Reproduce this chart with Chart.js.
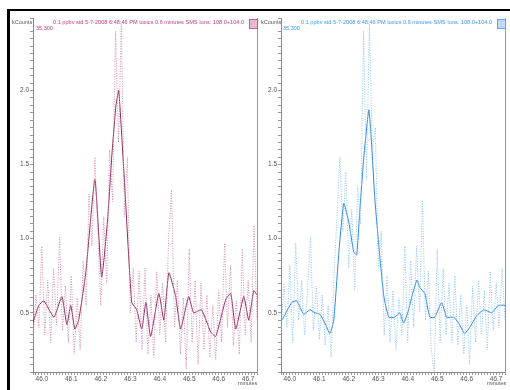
<!DOCTYPE html>
<html>
<head>
<meta charset="utf-8">
<script src="https://cdn.jsdelivr.net/npm/chart.js@4"></script>
<style>
body { margin:0; background:#fff; width:510px; height:390px; position:relative; overflow:hidden; font-family:"Liberation Sans", Arial, sans-serif; }
.frame { position:absolute; left:7px; top:9px; width:520px; height:400px; border-top:2px solid #000; border-left:3px solid #000; }
canvas { position:absolute; }
.lbl { position:absolute; font-size:5.5px; white-space:nowrap; line-height:1; }
.ttl { position:absolute; font-size:5.6px; white-space:nowrap; line-height:1; }
.box { position:absolute; width:7px; height:8px; }
</style>
</head>
<body>
<div class="frame"></div>
<canvas id="left" width="250" height="378" style="left:10px;top:12px"></canvas>
<canvas id="right" width="250" height="378" style="left:258px;top:12px"></canvas>

<div class="lbl" style="left:12px;top:20px;color:#555">kCounts</div>
<div class="ttl" style="left:53px;top:20px;color:#c0408a">0.1 ppbv std 5-7-2008 6:48:46 PM toxics 0.6 minutes SMS Ions: 108.0+104.0</div>
<div class="lbl" style="left:36px;top:26px;color:#c0408a">35.300</div>
<div class="box" style="left:249px;top:19px;background:#e8b8d0;border:1px solid #c06090"></div>
<div class="lbl" style="left:238px;top:381px;color:#555">minutes</div>

<div class="lbl" style="left:261px;top:20px;color:#555">kCounts</div>
<div class="ttl" style="left:301px;top:20px;color:#3a9af0">0.1 ppbv std 5-7-2008 6:48:46 PM toxics 0.6 minutes SMS Ions: 108.0+104.0</div>
<div class="lbl" style="left:283px;top:26px;color:#3a9af0">35.300</div>
<div class="box" style="left:497px;top:19px;background:#bcdcfa;border:1px solid #5aa8f0"></div>
<div class="lbl" style="left:487px;top:381px;color:#555">minutes</div>

<script>
// retention time of raw scans (minutes)
var rawTime = [45.97, 45.98, 45.99, 46.00, 46.01, 46.02, 46.03, 46.04, 46.05, 46.06,
  46.07, 46.08, 46.09, 46.10, 46.11, 46.12, 46.13, 46.14, 46.15, 46.16,
  46.17, 46.18, 46.19, 46.20, 46.21, 46.22, 46.23, 46.24, 46.25, 46.26,
  46.27, 46.28, 46.29, 46.30, 46.31, 46.32, 46.33, 46.34, 46.35, 46.36,
  46.37, 46.38, 46.39, 46.40, 46.41, 46.42, 46.43, 46.44, 46.45, 46.46,
  46.47, 46.48, 46.49, 46.50, 46.51, 46.52, 46.53, 46.54, 46.55, 46.56,
  46.57, 46.58, 46.59, 46.60, 46.61, 46.62, 46.63, 46.64, 46.65, 46.66,
  46.67, 46.68, 46.69, 46.70, 46.71, 46.72, 46.73];

// kCounts, left trace (raw, dotted)
var leftRaw = [0.30, 0.62, 0.40, 0.95, 0.35, 0.72, 0.30, 0.80, 0.42, 1.01,
  0.38, 0.68, 0.30, 0.75, 0.22, 0.60, 0.25, 0.85, 0.55, 1.30,
  0.95, 1.55, 1.05, 0.55, 1.15, 0.70, 1.60, 1.25, 2.40, 1.65,
  2.45, 1.15, 1.55, 0.50, 0.80, 0.30, 0.78, 0.25, 0.80, 0.22,
  0.62, 0.20, 0.78, 0.35, 0.70, 0.30, 1.00, 1.33, 0.40, 0.72,
  0.22, 0.60, 0.12, 0.93, 0.30, 0.72, 0.15, 0.70, 0.25, 0.62,
  0.20, 0.55, 0.18, 0.65, 0.30, 0.97, 0.40, 0.82, 0.28, 0.58,
  0.22, 0.93, 0.35, 0.72, 0.30, 1.09, 0.45];

// kCounts, right trace (raw, dotted)
var rightRaw = [0.35, 0.70, 0.40, 0.82, 0.30, 0.97, 0.45, 0.72, 0.35, 0.65,
  1.01, 0.38, 0.68, 0.32, 0.62, 0.28, 0.55, 0.20, 0.75, 1.15,
  1.55, 1.05, 1.45, 0.80, 1.20, 0.65, 1.35, 1.10, 2.40, 1.40,
  2.45, 1.60, 1.75, 0.80, 1.05, 0.35, 0.75, 0.30, 0.65, 0.25,
  0.60, 0.35, 0.95, 0.30, 0.85, 0.40, 0.95, 0.50, 1.26, 0.45,
  0.78, 0.25, 0.10, 0.93, 0.30, 0.80, 0.35, 0.70, 0.30, 0.75,
  0.28, 0.62, 0.22, 0.55, 0.15, 0.68, 0.30, 0.72, 0.35, 0.65,
  0.25, 0.78, 0.38, 0.70, 0.40, 0.80, 0.45];

// smoothed traces
var leftSmoothTime = [45.966, 45.99, 46.007, 46.041, 46.068, 46.085, 46.098, 46.112, 46.125, 46.149,
  46.18, 46.203, 46.224, 46.237, 46.251, 46.261, 46.285, 46.305, 46.322, 46.339,
  46.353, 46.369, 46.397, 46.414, 46.431, 46.454, 46.471, 46.498, 46.515, 46.542,
  46.573, 46.59, 46.624, 46.641, 46.658, 46.685, 46.702, 46.719, 46.73];
var leftSmooth = [0.41, 0.55, 0.58, 0.47, 0.61, 0.42, 0.55, 0.39, 0.45, 0.77,
  1.40, 0.74, 1.15, 1.55, 1.89, 2.00, 1.22, 0.57, 0.52, 0.39,
  0.57, 0.34, 0.63, 0.45, 0.77, 0.61, 0.39, 0.61, 0.50, 0.52,
  0.37, 0.34, 0.59, 0.63, 0.39, 0.61, 0.45, 0.65, 0.62];

var rightSmoothTime = [45.973, 46.007, 46.024, 46.047, 46.068, 46.085, 46.102, 46.119, 46.136, 46.149,
  46.166, 46.183, 46.200, 46.217, 46.227, 46.237, 46.251, 46.268, 46.278, 46.288,
  46.302, 46.319, 46.336, 46.356, 46.373, 46.386, 46.403, 46.414, 46.431, 46.441,
  46.458, 46.475, 46.492, 46.515, 46.532, 46.556, 46.573, 46.593, 46.610, 46.634,
  46.658, 46.685, 46.708, 46.73];
var rightSmooth = [0.45, 0.57, 0.58, 0.49, 0.52, 0.50, 0.49, 0.43, 0.36, 0.45,
  0.90, 1.24, 1.11, 0.91, 0.89, 1.18, 1.55, 1.87, 1.62, 1.28,
  0.95, 0.61, 0.47, 0.47, 0.50, 0.43, 0.52, 0.61, 0.72, 0.67,
  0.63, 0.47, 0.47, 0.57, 0.47, 0.47, 0.43, 0.36, 0.40, 0.48,
  0.52, 0.50, 0.55, 0.55];

function makeChart(id, raw, sTime, sVal, rawColor, lineColor) {
  var rawPts = rawTime.map(function (t, i) { return { x: t, y: raw[i] }; });
  var smPts = sTime.map(function (t, i) { return { x: t, y: sVal[i] }; });
  return new Chart(document.getElementById(id), {
    type: 'line',
    data: {
      datasets: [
        { data: rawPts, borderColor: rawColor, borderWidth: 1, borderDash: [1, 1.5], pointRadius: 0, tension: 0 },
        { data: smPts, borderColor: lineColor, borderWidth: 1, pointRadius: 0, tension: 0.15 }
      ]
    },
    options: {
      responsive: false,
      animation: false,
      events: [],
      layout: { padding: { top: 6, left: 0, right: 0, bottom: 0 } },
      plugins: { legend: { display: false }, tooltip: { enabled: false } },
      scales: {
        x: {
          type: 'linear', min: 45.97, max: 46.73,
          afterFit: function (s) { s.height = 18; },
          border: { color: '#888' },
          grid: { drawOnChartArea: false, tickLength: 3, tickColor: '#999' },
          ticks: {
            stepSize: 0.01, autoSkip: false, maxRotation: 0, maxTicksLimit: 200,
            padding: 0, color: '#555', font: { size: 6.5 },
            callback: function (v) {
              return Math.abs(v * 10 - Math.round(v * 10)) < 1e-6 ? v.toFixed(1) : '';
            }
          }
        },
        y: {
          min: 0.1, max: 2.49,
          afterFit: function (s) { s.width = 23; },
          border: { color: '#888' },
          grid: { drawOnChartArea: false, tickLength: 3, tickColor: '#999' },
          ticks: {
            stepSize: 0.05, autoSkip: false, maxTicksLimit: 200,
            padding: 1, color: '#555', font: { size: 6.5 },
            callback: function (v) {
              return Math.abs(v * 2 - Math.round(v * 2)) < 1e-6 ? v.toFixed(1) : '';
            }
          }
        },
        y2: {
          position: 'right', min: 0.1, max: 2.49,
          afterFit: function (s) { s.width = 3; },
          border: { color: '#999', dash: [1, 5] },
          grid: { display: false },
          ticks: { display: false }
        }
      }
    }
  });
}

makeChart('left', leftRaw, leftSmoothTime, leftSmooth, '#d68ab2', '#8c2a5a');
makeChart('right', rightRaw, rightSmoothTime, rightSmooth, '#8cc4f5', '#2f86dd');
</script>
</body>
</html>
